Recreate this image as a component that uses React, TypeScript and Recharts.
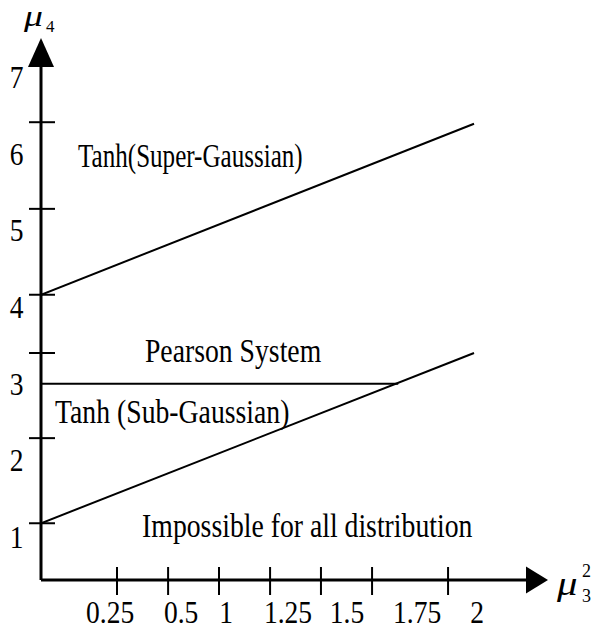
import { Line, LineChart, ReferenceDot, XAxis, YAxis } from "recharts"

// boundary lines of the (mu3^2, mu4) plane
const superGaussian = [
    { x: 0, y: 4.16 },
    { x: 2, y: 6.39 },
]
const subGaussian = [
    { x: 0, y: 1.18 },
    { x: 2, y: 3.4 },
]
const pearson = [
    { x: 0, y: 3 },
    { x: 1.65, y: 3 },
]

// axis ticks: short cross marks and their printed labels
const xTickMarks = [0.351, 0.587, 0.822, 1.058, 1.293, 1.529, 1.88]
const xLabelValues = [0.319, 0.647, 0.855, 1.141, 1.413, 1.737, 2.014]
const xTickLabels = ["0.25", "0.5", "1", "1.25", "1.5", "1.75", "2"]

const yTickMarks = [6.41, 5.28, 4.16, 3.4, 2.29, 1.18]
const yLabelValues = [1, 2, 3, 4, 5, 6, 7]
const yTickLabels = ["1", "2", "3", "4", "5", "6", "7"]

const X_DOMAIN: [number, number] = [0, 2.24]
const Y_DOMAIN: [number, number] = [0.44, 7.13]

const FONT = "'Liberation Serif', 'Times New Roman', serif"

// the serif text is set tall and narrow
function Words({ x, y, text, anchor = "start", size = 33, squeeze = 0.84, italic = false }: any) {
    return (
        <text
            transform={`translate(${x},${y}) scale(${squeeze},1)`}
            textAnchor={anchor}
            fontFamily={FONT}
            fontSize={size}
            fontStyle={italic ? "italic" : "normal"}
            fill="#000"
        >
            {text}
        </text>
    )
}

function YTick({ x, y, payload }: any) {
    const v = payload.value
    if (yTickMarks.includes(v)) {
        return <line x1={x - 12} x2={x + 14} y1={y} y2={y} stroke="#000" strokeWidth={2} />
    }
    const label = yTickLabels[yLabelValues.indexOf(v)]
    return <Words x={x - 24.5} y={y + 11} text={label} anchor="middle" size={32} squeeze={0.86} />
}

function XTick({ x, y, payload }: any) {
    const v = payload.value
    if (xTickMarks.includes(v)) {
        return <line x1={x} x2={x} y1={y - 13} y2={y + 15} stroke="#000" strokeWidth={2} />
    }
    const label = xTickLabels[xLabelValues.indexOf(v)]
    return <Words x={x} y={y + 43} text={label} anchor="middle" size={32} squeeze={0.86} />
}

function XArrow({ cx, cy }: any) {
    return (
        <g>
            <polygon points={`${cx},${cy - 13.5} ${cx + 22},${cy} ${cx},${cy + 13.5}`} fill="#000" />
            <Words x={cx + 31} y={cy + 15} text="μ" size={34} squeeze={1.2} italic />
            <Words x={cx + 56} y={cy - 3} text="2" size={18} squeeze={1} />
            <Words x={cx + 56} y={cy + 22} text="3" size={18} squeeze={1} />
        </g>
    )
}

function YArrow({ cx, cy }: any) {
    return (
        <g>
            <polygon points={`${cx - 13},${cy} ${cx},${cy - 29} ${cx + 13},${cy}`} fill="#000" />
            <Words x={cx - 17} y={cy - 41} text="μ" size={29} squeeze={1.3} italic />
            <Words x={cx + 5} y={cy - 35} text="4" size={17} squeeze={1} />
        </g>
    )
}

function Note(text: string, squeeze = 0.84) {
    return ({ cx, cy }: any) => <Words x={cx} y={cy} text={text} squeeze={squeeze} />
}

export default function App() {
    return (
        <div style={{ position: "absolute", left: 0, top: 0, background: "#fff" }}>
            <LineChart width={594} height={630} margin={{ top: 67, right: 68, bottom: 0, left: 0 }}>
                <XAxis
                    type="number"
                    dataKey="x"
                    domain={X_DOMAIN}
                    allowDataOverflow
                    ticks={[...xTickMarks, ...xLabelValues]}
                    interval={0}
                    tick={<XTick />}
                    tickLine={false}
                    tickSize={0}
                    tickMargin={0}
                    height={50}
                    axisLine={{ stroke: "#000", strokeWidth: 3 }}
                />
                <YAxis
                    type="number"
                    domain={Y_DOMAIN}
                    allowDataOverflow
                    ticks={[...yLabelValues, ...yTickMarks]}
                    interval={0}
                    tick={<YTick />}
                    tickLine={false}
                    tickSize={0}
                    tickMargin={0}
                    width={41}
                    axisLine={{ stroke: "#000", strokeWidth: 3 }}
                />
                <Line data={superGaussian} dataKey="y" type="linear" stroke="#000" strokeWidth={2} dot={false} isAnimationActive={false} />
                <Line data={subGaussian} dataKey="y" type="linear" stroke="#000" strokeWidth={2} dot={false} isAnimationActive={false} />
                <Line data={pearson} dataKey="y" type="linear" stroke="#000" strokeWidth={2} dot={false} isAnimationActive={false} />

                <ReferenceDot x={X_DOMAIN[1]} y={Y_DOMAIN[0]} r={0} ifOverflow="visible" shape={<XArrow />} />
                <ReferenceDot x={0} y={Y_DOMAIN[1]} r={0} ifOverflow="visible" shape={<YArrow />} />

                <ReferenceDot x={0.171} y={5.824} r={0} ifOverflow="visible" shape={Note("Tanh(Super-Gaussian)", 0.76)} />
                <ReferenceDot x={0.48} y={3.282} r={0} ifOverflow="visible" shape={Note("Pearson System")} />
                <ReferenceDot x={0.065} y={2.486} r={0} ifOverflow="visible" shape={Note("Tanh (Sub-Gaussian)")} />
                <ReferenceDot x={0.467} y={1.0} r={0} ifOverflow="visible" shape={Note("Impossible for all distribution")} />
            </LineChart>
        </div>
    )
}
